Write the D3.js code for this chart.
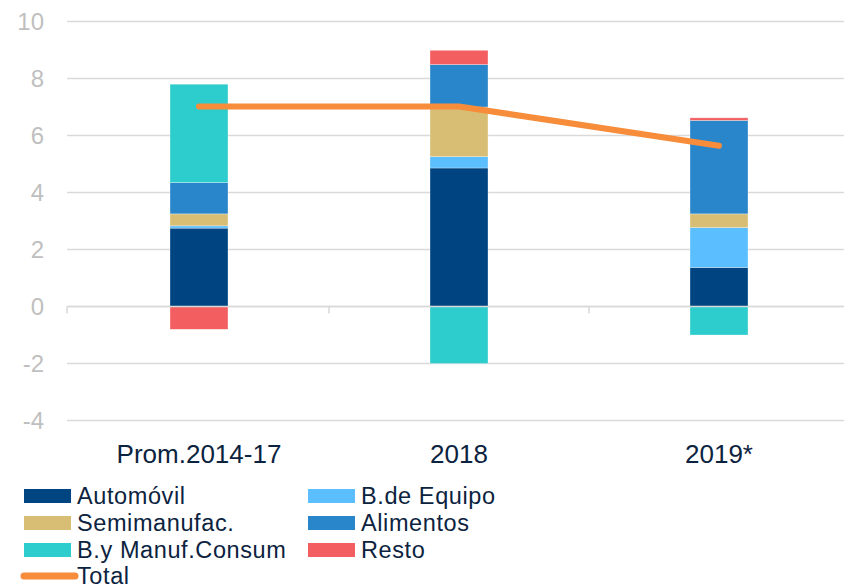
<!DOCTYPE html>
<html>
<head>
<meta charset="utf-8">
<script src="https://cdn.jsdelivr.net/npm/d3@7"></script>
<style>
  body { margin: 0; background: #fff; }
  svg { display: block; font-family: "Liberation Sans", Arial, sans-serif; }
</style>
</head>
<body>
<svg width="844" height="587"></svg>
<script>
// data
var categories = ["Prom.2014-17", "2018", "2019*"];
var seriesNames = ["Automóvil", "B.de Equipo", "Semimanufac.", "Alimentos", "B.y Manuf.Consum", "Resto"];
var automovil = [2.75, 4.86, 1.37];
var bEquipo = [0.08, 0.40, 1.40];
var semimanuf = [0.42, 1.74, 0.48];
var alimentos = [1.10, 1.49, 3.28];
var manufConsum = [3.45, -2.00, -1.00];
var resto = [-0.80, 0.50, 0.09];
var total = [7.02, 7.02, 5.64];
var yTicks = [-4, -2, 0, 2, 4, 6, 8, 10];
var colors = ["#004481", "#5BBEFF", "#D8BE75", "#2A86CA", "#2DCCCD", "#F35E61"];
var totalColor = "#F78C3A";

var seriesValues = [automovil, bEquipo, semimanuf, alimentos, manufConsum, resto];

var svg = d3.select("svg"),
    width = +svg.attr("width"),
    height = +svg.attr("height");

var x = d3.scaleBand()
    .domain(categories)
    .range([69, 849])
    .paddingInner(0.777)
    .paddingOuter(0.3885);

var y = d3.scaleLinear()
    .domain([-4, 10])
    .range([420.5, 21.5]);

// grid lines
svg.append("g").selectAll("line")
    .data(yTicks)
    .enter().append("line")
    .attr("x1", 67)
    .attr("x2", width)
    .attr("y1", function (d) { return y(d); })
    .attr("y2", function (d) { return y(d); })
    .attr("stroke", "#d9d9d9")
    .attr("stroke-width", 1.5);

// y tick labels
svg.append("g").selectAll("text")
    .data(yTicks)
    .enter().append("text")
    .attr("x", 44)
    .attr("y", function (d) { return y(d); })
    .attr("dy", "0.36em")
    .attr("text-anchor", "end")
    .attr("fill", "#bfbfbf")
    .style("font-size", "24px")
    .text(function (d) { return d; });

// stacked bars (positives up, negatives down)
var stackData = categories.map(function (c, i) {
    var pos = 0, neg = 0;
    return seriesValues.map(function (vals, s) {
        var v = vals[i], y0, y1;
        if (v >= 0) { y0 = pos; y1 = pos + v; pos = y1; }
        else { y0 = neg; y1 = neg + v; neg = y1; }
        return { cat: c, s: s, y0: y0, y1: y1 };
    });
});

svg.append("g").selectAll("g")
    .data(stackData)
    .enter().append("g")
    .selectAll("rect")
    .data(function (d) { return d; })
    .enter().append("rect")
    .attr("x", function (d) { return x(d.cat); })
    .attr("width", x.bandwidth())
    .attr("y", function (d) { return y(Math.max(d.y0, d.y1)); })
    .attr("height", function (d) { return Math.abs(y(d.y0) - y(d.y1)); })
    .attr("fill", function (d) { return colors[d.s]; })
    .attr("stroke", "rgba(255,255,255,0.5)")
    .attr("stroke-width", 0.6);

// zero axis with ticks at band edges
svg.append("line")
    .attr("x1", 67).attr("x2", width)
    .attr("y1", y(0)).attr("y2", y(0))
    .attr("stroke", "#d9d9d9").attr("stroke-width", 1.5);
var edges = [67, x(categories[1]) - (x.step() - x.bandwidth()) / 2, x(categories[2]) - (x.step() - x.bandwidth()) / 2];
svg.append("g").selectAll("line")
    .data(edges)
    .enter().append("line")
    .attr("x1", function (d) { return d; })
    .attr("x2", function (d) { return d; })
    .attr("y1", y(0))
    .attr("y2", y(0) + 7)
    .attr("stroke", "#d9d9d9").attr("stroke-width", 1.5);

// total line
var line = d3.line()
    .x(function (d, i) { return x(categories[i]) + x.bandwidth() / 2; })
    .y(function (d) { return y(d); });
svg.append("path")
    .datum(total)
    .attr("d", line)
    .attr("fill", "none")
    .attr("stroke", totalColor)
    .attr("stroke-width", 6)
    .attr("stroke-linecap", "round")
    .attr("stroke-linejoin", "round");

// category labels
svg.append("g").selectAll("text")
    .data(categories)
    .enter().append("text")
    .attr("x", function (d) { return x(d) + x.bandwidth() / 2; })
    .attr("y", 463)
    .attr("text-anchor", "middle")
    .attr("fill", "#0c2340")
    .style("font-size", "26px")
    .text(function (d) { return d; });

// legend
var legend = svg.append("g");
var legendItems = legend.selectAll("g")
    .data(seriesNames)
    .enter().append("g")
    .attr("transform", function (d, i) {
        return "translate(" + (i % 2 === 0 ? 24 : 308) + "," + (496 + Math.floor(i / 2) * 27) + ")";
    });
legendItems.append("rect")
    .attr("x", 0).attr("y", -7)
    .attr("width", 47).attr("height", 14)
    .attr("fill", function (d, i) { return colors[i]; });
legendItems.append("text")
    .attr("x", 53).attr("y", 0)
    .attr("dy", "0.36em")
    .attr("fill", "#0c2340")
    .style("font-size", "23.5px")
    .style("letter-spacing", "0.6px")
    .text(function (d) { return d; });

var totalItem = legend.append("g").attr("transform", "translate(24," + (495 + 3 * 27) + ")");
totalItem.append("line")
    .attr("x1", 0).attr("x2", 51)
    .attr("y1", 0).attr("y2", 0)
    .attr("stroke", totalColor)
    .attr("stroke-width", 7)
    .attr("stroke-linecap", "round");
totalItem.append("text")
    .attr("x", 53).attr("y", 0)
    .attr("dy", "0.36em")
    .attr("fill", "#0c2340")
    .style("font-size", "23.5px")
    .style("letter-spacing", "0.6px")
    .text("Total");
</script>
</body>
</html>
